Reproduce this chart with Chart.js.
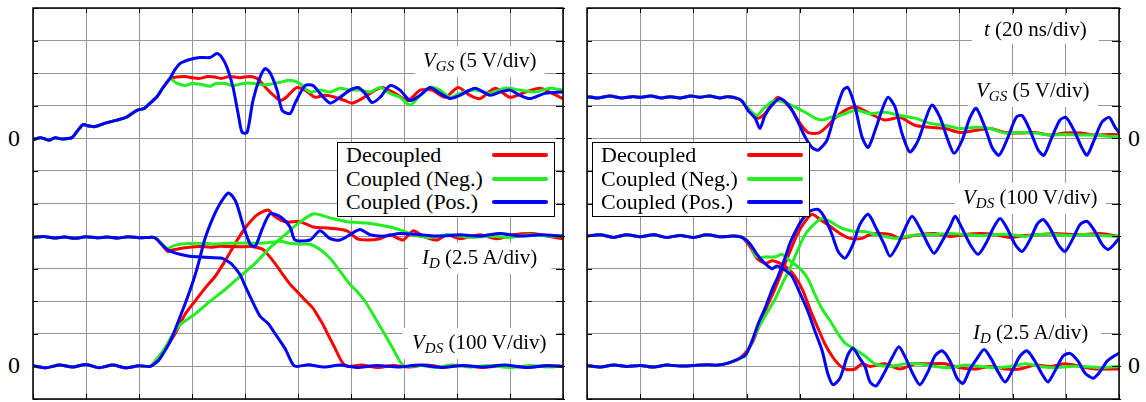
<!DOCTYPE html>
<html>
<head>
<meta charset="utf-8">
<script src="https://cdn.jsdelivr.net/npm/chart.js@4.4.1/dist/chart.umd.min.js"></script>
<style>
  body { margin: 0; background: #fff; font-family: "Liberation Serif", "Times New Roman", serif; color: #000; }
  #page { position: relative; width: 1146px; height: 402px; overflow: hidden; }
  .wrap { position: absolute; top: 3px; height: 399px; }
  .wrap canvas { display: block; }
  .lab { position: absolute; font-size: 21px; line-height: 21px; padding: 4px 8px; white-space: nowrap; }
  .sub { font-size: 15px; font-style: italic; position: relative; top: 4px; }
  .zero { position: absolute; font-size: 24px; line-height: 24px; }
  .legend { position: absolute; top: 142px; width: 216px; height: 73px; border: 1px solid #000; background: #fff; font-size: 22px; }
  .legend .row { position: relative; height: 23.5px; line-height: 23.5px; padding-left: 8px; white-space: nowrap; }
  .legend .sw { position: absolute; left: 154px; top: 10px; width: 56px; height: 4px; border-radius: 2px; }
</style>
</head>
<body>
<div id="page">
  <div class="wrap" style="left:28px;width:540px"><canvas id="turnOn" width="540" height="399"></canvas></div>
  <div class="wrap" style="left:582px;width:542px"><canvas id="turnOff" width="542" height="399"></canvas></div>

  <div class="zero" style="left:8px;top:126px">0</div>
  <div class="zero" style="left:8px;top:353px">0</div>
  <div class="zero" style="left:1128px;top:126px">0</div>
  <div class="zero" style="left:1128px;top:353px">0</div>

  <div class="lab" data-panel="on" style="left:415px;top:46px"><i>V</i><span class="sub">GS</span> (5 V/div)</div>
  <div class="lab" data-panel="on" style="left:408px;top:243px;padding:4px 14px"><i>I</i><span class="sub">D</span> (2.5 A/div)</div>
  <div class="lab" data-panel="on" style="left:402px;top:328px;padding:4px 10px"><i>V</i><span class="sub">DS</span> (100 V/div)</div>

  <div class="lab" data-panel="off" style="left:972px;top:15px;padding:4px 12px"><i>t</i> (20 ns/div)</div>
  <div class="lab" data-panel="off" style="left:968px;top:76px"><i>V</i><span class="sub">GS</span> (5 V/div)</div>
  <div class="lab" data-panel="off" style="left:955px;top:183px"><i>V</i><span class="sub">DS</span> (100 V/div)</div>
  <div class="lab" data-panel="off" style="left:960px;top:318px;padding:4px 13px"><i>I</i><span class="sub">D</span> (2.5 A/div)</div>

  <div class="legend" id="legOn" style="left:337px"></div>
  <div class="legend" id="legOff" style="left:592px"></div>
</div>
<script>
// series
const seriesNames = ["Decoupled", "Coupled (Neg.)", "Coupled (Pos.)"];
const seriesColors = ["#ff0000", "#22ee22", "#0000ff"];

// scope channels: zero level (div) and units per div
const chVgs = { zero: 8, perDiv: 5 };
const chVds = { zero: 1, perDiv: 100 };
const chId = { zero: 1, perDiv: 2.5 };

// time axis, 20 ns/div, 10 div
const timeTicks = [0, 20, 40, 60, 80, 100, 120, 140, 160, 180, 200];
const divTicks = [0, 1, 2, 3, 4, 5, 6, 7, 8, 9, 10, 11, 12];

// ---- turn-on, [t ns, value] ----
const onVgsLead = [[0,-0.2],[3,0.1],[6,-0.3],[8.3,0.1],[11,-0.1],[14.7,0.1],[16.5,1.0],[18.9,2.1],[21,1.9],[23.4,1.8],[27,2.3],[31.7,2.8],[35.5,3.3],[39.2,4.3],[42,4.6],[44.2,5.4],[47,6.5],[49.1,7.8],[51.7,9.2]];
const onVgsRed = [[54,9.4],[57.4,9.5],[60,9.3],[63,9.2],[66,9.5],[68.7,9.4],[71,9.2],[74.3,9.5],[78,9.3],[81.9,9.5],[84.5,9.2],[86.5,8.4],[88.7,7.4],[91,6.5],[93.2,5.8],[95,6.1],[97,6.9],[99.6,7.8],[102.7,7.4],[106.4,6.3],[110.2,6.6],[114,6.3],[117.7,5.8],[120.4,5.4],[124.2,6.1],[127.9,7.1],[131.7,7.8],[136.6,6.9],[141.5,5.8],[146.1,7.4],[150.6,7.4],[155.5,6.3],[160.4,7.8],[164.9,6.6],[168.7,6.1],[174.4,7.7],[180,6.3],[185.7,7.1],[191.3,7.7],[195.9,6.9],[200,6.1]];
const onVgsGreen = [[54,8.5],[57.4,8.1],[60,8.4],[63,8.3],[66.8,8.0],[69,8.4],[72.5,8.4],[75,8.1],[78.1,8.3],[81,8.5],[83.8,8.4],[86.5,8.2],[89.4,8.3],[93.2,8.6],[97,8.9],[100.8,8.4],[104.5,7.1],[108.3,7.4],[112.1,7.1],[115.9,7.7],[119.6,7.4],[123.4,7.4],[127.2,7.1],[131,7.8],[134.7,6.9],[138.5,6.3],[142.3,5.1],[146.1,6.6],[149.8,7.8],[153.6,7.4],[157.4,6.3],[161.1,6.9],[166.8,7.4],[172.5,6.9],[178.1,7.7],[183.8,7.4],[189.5,7.1],[195.1,7.7],[200,7.4]];
const onVgsBlue = [[53.5,10.5],[55.5,11.5],[59.2,12.1],[63,12.4],[66.8,12.4],[69.4,13.0],[71.3,12.4],[73.2,10.9],[75.5,7.8],[77.4,3.8],[78.9,0.9],[80.8,0.9],[83,5.8],[85.7,9.4],[87.6,10.7],[89.4,10.1],[92.1,7.4],[94,4.3],[97,3.8],[98.9,5.4],[102.7,8.1],[105.7,8.1],[108.3,6.9],[112.1,5.4],[115.9,6.3],[119.6,7.4],[122.6,7.8],[125.3,6.9],[127.9,5.5],[131,6.3],[134.7,8.1],[138.5,7.4],[142.3,5.8],[146.1,6.6],[149.8,7.8],[153.6,6.9],[157.4,6.1],[161.1,6.6],[166.8,7.7],[172.5,6.6],[176.2,7.1],[180,7.4],[183.8,6.6],[187.5,6.1],[193.2,6.9],[200,7.1]];

const onVdsLead = [[0,396],[4,399],[8,394],[12,397],[16,393],[20,398],[24,395],[28,397],[32,394],[36,398],[40,395],[44,396],[46,395]];
const onVdsRed = [[48.5,375],[50.9,353],[53,358],[55.5,362],[59,366],[63,368],[67,366],[70.5,369],[74.3,368],[78,367],[81.9,368],[84.5,365],[86.8,359],[89,340],[91.3,316],[94,285],[97,252],[99.6,230],[102.5,205],[105.7,178],[107.5,155],[109.4,129],[111.3,98],[113.2,68],[115,38],[117,9],[118.9,0],[124,4],[130,-3],[136,3],[142,-2],[148,4],[155,-2],[162,3],[170,-3],[178,2],[186,-3],[194,3],[200,0]];
const onVdsGreen = [[48.5,378],[50.6,362],[53,370],[55.5,375],[59,377],[63,378],[68,376],[74.3,378],[80,379],[85.7,378],[90,381],[93.2,384],[97,378],[100.8,375],[104.5,375],[108.3,359],[112.1,332],[115.9,292],[119.6,252],[122.3,230],[125.3,200],[128.3,160],[132.1,107],[135.8,55],[138.5,15],[140.4,0],[146,3],[152,-3],[158,4],[165,-2],[172,3],[180,-3],[188,3],[194,-2],[200,2]];
const onVdsBlue = [[48.5,375],[50.6,359],[53,350],[55.5,344],[59.2,338],[64.9,335],[71.3,332],[73,325],[75.1,313],[78.1,282],[80,248],[81.9,215],[85.7,154],[88.7,132],[91.3,101],[95.1,55],[98.1,6],[99.6,0],[104,5],[110,-2],[116,4],[122,-3],[130,3],[138,-2],[146,4],[154,-3],[162,3],[170,-2],[178,4],[186,-3],[194,2],[200,0]];

const onIdLead = [[0,0.05],[5,-0.1],[10,0.1],[15,-0.05],[20,0.15],[25,-0.1],[30,0.1],[35,-0.1],[40,0.05],[44.2,0]];
const onIdRed = [[46.5,0.5],[49.8,1.3],[53.6,2.5],[57.4,4.0],[61.1,5.0],[64.9,6.0],[68.7,6.9],[72.5,8.1],[76.2,9.4],[80,10.6],[83.8,11.5],[86,11.8],[88.7,12.0],[91.3,11.5],[95.1,11.1],[100.8,11.1],[105.7,10.7],[112.1,10.6],[118.5,10.4],[122.3,9.8],[126,9.7],[131,9.8],[134.7,10.1],[139.6,9.7],[143.4,10.4],[147.2,10.0],[152.5,9.7],[156.2,10.1],[161.1,9.8],[168.7,10.1],[175.1,9.8],[181.1,10.1],[188.7,10.2],[194,10.0],[200,9.8]];
const onIdGreen = [[46.5,0.5],[49.8,1.4],[51.7,2.1],[55.5,3.2],[61.1,4.0],[66.8,5.0],[72.5,5.9],[78.1,6.9],[83.8,7.9],[89.4,9.1],[95.1,10.1],[99.6,10.9],[105.7,11.7],[112.1,11.4],[118.5,11.1],[126,11.0],[134.7,10.7],[139.6,10.4],[143.4,10.1],[149.8,9.9],[157.4,10.1],[164.9,9.9],[172.5,10.0],[180,9.9],[187.5,10.1],[195.1,10.0],[200,10.0]];
const onIdBlue = [[46.5,0.3],[47.9,0.6],[51.7,1.9],[55.5,3.8],[59.2,5.8],[61.9,7.5],[64.9,9.8],[67.9,11.4],[70.6,12.5],[73.6,13.3],[75.5,13.0],[77,12.4],[79.2,10.9],[81.9,9.4],[83.8,9.2],[86.4,10.5],[89.4,11.7],[93.2,11.5],[97,10.7],[98.9,9.7],[104.5,9.7],[108.3,10.4],[112.1,9.8],[115.9,9.7],[119.6,10.1],[123.4,10.5],[127.2,10.1],[132.8,10.0],[138.5,10.2],[146.1,10.1],[153.6,10.0],[161.1,10.1],[168.7,10.0],[176.2,10.2],[183.8,10.0],[191.3,10.1],[200,10.0]];

// ---- turn-off ----
const offVgsLead = [[0,6.4],[4,6.2],[8.6,6.5],[13,6.2],[17,6.4],[19.9,6.3],[24,6.5],[28,6.2],[31.2,6.4],[35,6.2],[39,6.5],[42.5,6.3],[46,6.5],[50,6.2],[53,6.4],[56.8,6.1],[58.5,5.6]];
const offVgsRed = [[61.3,4.0],[64.3,3.1],[66.9,3.8],[69.6,5.4],[71.8,6.3],[74.4,5.5],[77.1,4.3],[80.1,2.3],[83.1,0.9],[86.9,0.8],[89.9,1.7],[93.2,3.1],[97,4.3],[101.1,4.8],[106.4,3.8],[112,2.8],[117.7,3.2],[123.3,2.0],[129,1.7],[134.6,1.5],[140.2,0.9],[145.9,1.2],[151.5,1.5],[157.2,0.9],[162.8,0.8],[168.4,0.9],[174.1,0.5],[179.7,0.8],[185.4,0.8],[191,0.5],[196.7,0.6],[200,0.5]];
const offVgsGreen = [[61.3,4.3],[63.9,3.5],[66.9,4.8],[70.7,5.8],[74.4,5.5],[78.2,4.8],[82,4.0],[85.7,3.1],[88.4,2.8],[91.4,3.2],[95.1,3.5],[101.1,4.3],[106.4,3.8],[112,4.0],[117.7,3.5],[123.3,3.1],[129,2.3],[134.6,2.0],[140.2,1.5],[145.9,1.7],[151.5,1.5],[157.2,0.8],[162.8,0.9],[168.4,0.8],[174.1,0.5],[179.7,0.6],[185.4,0.5],[191,0.5],[196.7,0.3],[200,0.3]];
const offVgsBlue = [[60.5,4.3],[63.2,3.1],[65,1.5],[66.9,3.5],[69.6,5.1],[72.6,6.1],[76.3,4.8],[79,2.8],[82,0.2],[84.6,-1.4],[86.9,-1.8],[90.2,-0.3],[93.2,3.8],[96.3,7.4],[98.1,7.8],[100.8,4.8],[103.4,0.2],[105.7,-1.4],[108.7,1.7],[111.3,4.8],[113.2,6.3],[115.8,4.8],[118.4,0.8],[121.4,-2.1],[124.5,-0.3],[127.5,3.2],[129.7,5.1],[132.7,3.2],[135.7,-0.3],[138,-2.3],[141,-0.3],[144,3.2],[146.3,4.6],[149.6,1.7],[152.3,-1.4],[154.9,-2.6],[158.3,0.2],[161.3,3.2],[163.6,3.5],[166.6,1.2],[169.6,-1.8],[171.8,-2.6],[174.8,0.2],[177.8,2.8],[180.1,3.2],[183.1,1.2],[186.1,-1.5],[188,-2.6],[190.6,-0.3],[193.6,2.5],[196.3,3.2],[198.5,1.7],[200,0.9]];

const offVdsLead = [[0,3],[5,-2],[10,4],[15,0],[20,3],[25,-2],[30,4],[35,1],[40,3],[45,5],[49.3,4],[53,10],[57.5,25]];
const offVdsRed = [[62,71],[65,132],[68,190],[70.7,239],[73.3,292],[76.3,353],[79,405],[82,445],[84.6,467],[87.6,451],[91.4,430],[95.1,408],[98.9,393],[103.4,393],[106.4,405],[110.2,408],[113.9,405],[117.7,393],[121.4,399],[125.2,405],[130.8,408],[136.5,399],[142.1,405],[147.8,408],[153.4,405],[159,396],[164.7,402],[170.3,405],[175.9,408],[181.6,405],[187.2,405],[192.9,408],[200,399]];
const offVdsGreen = [[59.4,31],[63.2,98],[65.8,138],[68,169],[70.7,206],[73.3,252],[76.3,301],[79,353],[82,405],[85.7,439],[88.4,454],[91.4,445],[94.4,430],[97,421],[100.8,414],[104.5,414],[108.3,405],[112,399],[115.8,393],[119.6,399],[125.2,405],[130.8,405],[136.5,408],[142.1,405],[147.8,402],[153.4,405],[159,405],[164.7,399],[170.3,405],[175.9,405],[181.6,402],[187.2,405],[192.9,402],[200,399]];
const offVdsBlue = [[59.8,37],[62,77],[64.3,129],[66.9,178],[69.6,236],[71.8,276],[74.4,332],[76.3,378],[79,424],[81.2,454],[83.8,476],[86.9,482],[89.5,454],[92.1,405],[94.4,353],[97,332],[100,375],[102.6,436],[105.7,467],[108.7,424],[111.7,375],[113.9,338],[116.9,375],[119.6,424],[122.2,461],[125.2,424],[128.2,375],[130.5,347],[133.5,384],[136.5,430],[138.4,461],[141,424],[144,375],[147,344],[150,378],[152.7,424],[155.3,454],[157.9,424],[160.9,375],[163.6,353],[166.6,390],[169.2,436],[171.5,451],[174.1,424],[177.1,375],[179.7,353],[182.7,393],[185.4,436],[188,445],[191,414],[193.6,375],[195.9,359],[198.2,375],[200,393]];

const offIdLead = [[0,10.0],[5,10.1],[10,9.9],[15,10.1],[20,9.95],[25,10.1],[30,9.9],[35,10.05],[40,9.9],[45,10.1],[50,9.95],[55,10.0],[58.3,9.9]];
const offIdRed = [[61.3,9.2],[63.9,8.3],[66.9,7.9],[69.6,8.1],[72.6,7.9],[75.6,7.5],[78.2,6.9],[81.2,5.8],[83.8,4.4],[86.9,2.9],[89.5,1.7],[92.1,0.8],[94.4,0.2],[97,-0.2],[100.8,-0.2],[103.4,0.2],[106.4,0],[112,0.2],[117.7,-0.2],[123.3,0.2],[129,0.2],[134.6,0.2],[140.2,-0.1],[145.9,-0.2],[151.5,0],[157.2,-0.2],[162.8,-0.2],[168.4,0.1],[174.1,0],[179.7,0.2],[185.4,0],[191,-0.2],[196.7,-0.2],[200,-0.2]];
const offIdGreen = [[61.3,9.4],[63.9,8.4],[66.9,8.4],[70.7,8.4],[73.3,8.6],[76.3,8.1],[80.1,7.5],[83.1,6.7],[85.7,5.5],[88.4,4.4],[91.4,3.5],[94.4,2.5],[97,1.8],[100,1.4],[104.5,0.8],[108.3,0.2],[113.9,0],[119.6,0.2],[125.2,0.2],[130.8,0],[136.5,-0.1],[142.1,0.1],[147.8,0],[153.4,-0.1],[159,0],[164.7,0.2],[170.3,0],[175.9,-0.1],[181.6,0],[187.2,0],[192.9,-0.1],[200,0]];
const offIdBlue = [[61.3,9.4],[63.9,8.6],[66.9,7.9],[69.6,7.5],[71.4,7.7],[74.4,7.4],[77.1,6.9],[80.1,5.6],[83.1,4.2],[85.7,2.7],[88.4,1.2],[90.6,-0.6],[92.5,-1.4],[95.1,-0.9],[98.1,0.9],[100,1.4],[102.6,0.6],[104.5,0],[106.4,-1.2],[108.7,-1.5],[112,-0.4],[115,0.8],[117.3,1.5],[119.9,0.6],[122.6,-0.6],[125.2,-1.4],[128.2,-0.4],[130.8,0.8],[133.5,1.2],[136.5,0.4],[139.1,-0.9],[141.4,-1.3],[144,-0.2],[146.6,0.6],[149.3,1.3],[151.9,0.6],[154.5,-0.4],[157.2,-1.2],[160.2,-0.2],[162.8,0.8],[165.4,1.2],[168.4,0.4],[171.1,-0.6],[173.3,-1.2],[176.3,-0.2],[179,0.8],[181.6,1.0],[184.6,0.4],[187.2,-0.5],[190.3,-0.9],[192.9,-0.4],[195.5,0.4],[198.2,0.8],[200,1.0]];

// map a trace onto the screen divisions of its channel
function toDiv(points, ch) {
  return points.map((p) => ({ x: p[0], y: ch.zero + p[1] / ch.perDiv }));
}

function trace(lead, rest, ch, k) {
  return {
    label: seriesNames[k],
    data: toDiv(lead.concat(rest), ch),
    borderColor: seriesColors[k],
    borderWidth: 3,
    borderJoinStyle: "round",
    borderCapStyle: "round",
    order: 2 - k,
  };
}

// white boxes behind the labels, above the grid
const labelBoxes = {
  id: "labelBoxes",
  beforeDatasetsDraw(chart) {
    const ctx = chart.ctx;
    const cr = chart.canvas.getBoundingClientRect();
    const panel = chart.canvas.id === "turnOn" ? "on" : "off";
    ctx.save();
    ctx.fillStyle = "#fff";
    document.querySelectorAll('.lab[data-panel="' + panel + '"]').forEach((el) => {
      const r = el.getBoundingClientRect();
      ctx.fillRect(r.left - cr.left, r.top - cr.top, r.width, r.height);
    });
    ctx.restore();
  },
};

// frame and small inward ticks on all four sides
const frame = {
  id: "frame",
  afterDraw(chart) {
    const { ctx, chartArea: a, scales } = chart;
    ctx.save();
    ctx.strokeStyle = "#000";
    ctx.lineWidth = 1;
    ctx.beginPath();
    timeTicks.forEach((t) => {
      const x = Math.round(scales.x.getPixelForValue(t)) + 0.5;
      ctx.moveTo(x, a.top); ctx.lineTo(x, a.top + 5);
      ctx.moveTo(x, a.bottom); ctx.lineTo(x, a.bottom - 5);
    });
    divTicks.forEach((d) => {
      const y = Math.round(scales.y.getPixelForValue(d)) + 0.5;
      ctx.moveTo(a.left, y); ctx.lineTo(a.left + 5, y);
      ctx.moveTo(a.right - 7, y); ctx.lineTo(a.right + 2, y);
    });
    ctx.stroke();
    ctx.lineWidth = 1.5;
    ctx.strokeRect(a.left, a.top, a.right - a.left, a.bottom - a.top);
    ctx.restore();
  },
};

function makeScope(id, sets) {
  const grid = { color: "#959595", lineWidth: 1, drawTicks: false };
  return new Chart(document.getElementById(id), {
    type: "line",
    data: { datasets: sets },
    options: {
      responsive: false,
      animation: false,
      devicePixelRatio: 1,
      layout: { padding: { left: 5, right: 5, top: 5, bottom: 3 } },
      elements: { point: { radius: 0 }, line: { tension: 0.25 } },
      plugins: { legend: { display: false }, tooltip: { enabled: false } },
      scales: {
        x: { type: "linear", min: 0, max: 200, ticks: { display: false, stepSize: 20 }, grid: grid, border: { display: false } },
        y: { type: "linear", min: 0, max: 12, ticks: { display: false, stepSize: 1 }, grid: grid, border: { display: false } },
      },
    },
    plugins: [labelBoxes, frame],
  });
}

makeScope("turnOn", [
  trace(onVgsLead, onVgsRed, chVgs, 0),
  trace(onVgsLead, onVgsGreen, chVgs, 1),
  trace(onVgsLead, onVgsBlue, chVgs, 2),
  trace(onVdsLead, onVdsRed, chVds, 0),
  trace(onVdsLead, onVdsGreen, chVds, 1),
  trace(onVdsLead, onVdsBlue, chVds, 2),
  trace(onIdLead, onIdRed, chId, 0),
  trace(onIdLead, onIdGreen, chId, 1),
  trace(onIdLead, onIdBlue, chId, 2),
]);

makeScope("turnOff", [
  trace(offVgsLead, offVgsRed, chVgs, 0),
  trace(offVgsLead, offVgsGreen, chVgs, 1),
  trace(offVgsLead, offVgsBlue, chVgs, 2),
  trace(offVdsLead, offVdsRed, chVds, 0),
  trace(offVdsLead, offVdsGreen, chVds, 1),
  trace(offVdsLead, offVdsBlue, chVds, 2),
  trace(offIdLead, offIdRed, chId, 0),
  trace(offIdLead, offIdGreen, chId, 1),
  trace(offIdLead, offIdBlue, chId, 2),
]);

// legends
["legOn", "legOff"].forEach((id) => {
  const box = document.getElementById(id);
  seriesNames.forEach((name, k) => {
    const row = document.createElement("div");
    row.className = "row";
    row.textContent = name;
    const sw = document.createElement("span");
    sw.className = "sw";
    sw.style.background = seriesColors[k];
    row.appendChild(sw);
    box.appendChild(row);
  });
});
</script>
</body>
</html>
